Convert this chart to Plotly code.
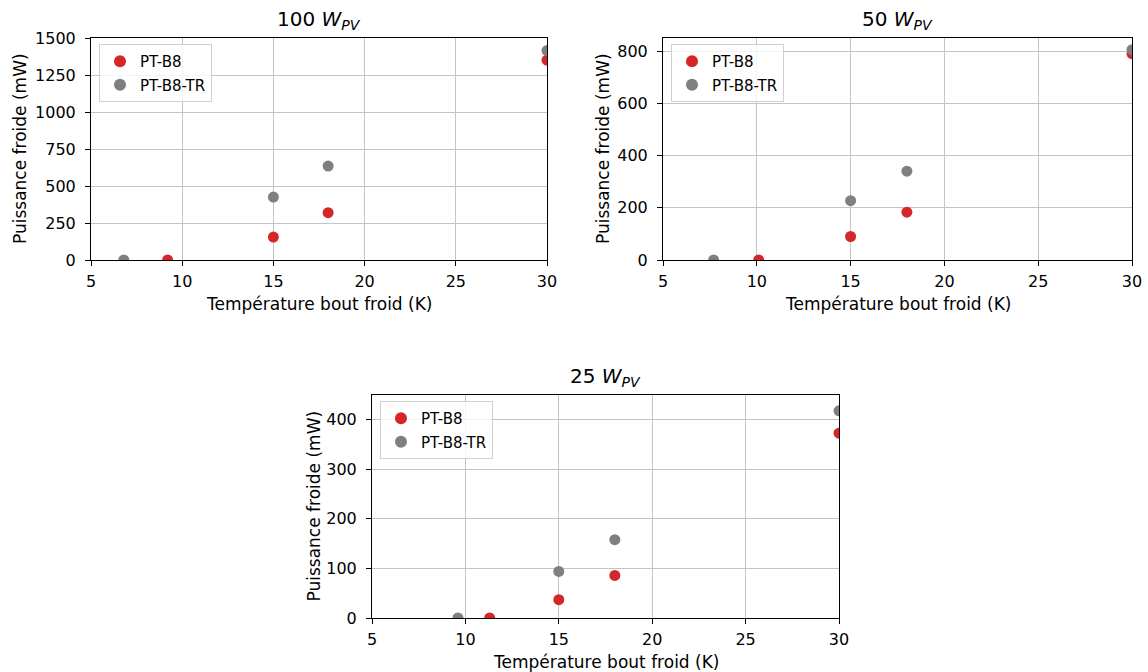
import plotly.graph_objects as go

# ---- data ----
temps_b8_100 = [9.2, 15, 18, 30]
power_b8_100 = [0, 155, 320, 1350]
temps_tr_100 = [6.8, 15, 18, 30]
power_tr_100 = [0, 425, 635, 1415]

temps_b8_50 = [10.1, 15, 18, 30]
power_b8_50 = [0, 90, 183, 790]
temps_tr_50 = [7.7, 15, 18, 30]
power_tr_50 = [0, 227, 340, 805]

temps_b8_25 = [11.3, 15, 18, 30]
power_b8_25 = [0, 37, 86, 373]
temps_tr_25 = [9.6, 15, 18, 30]
power_tr_25 = [0, 94, 158, 418]

titles = ["100", "50", "25"]
series_names = ["PT-B8", "PT-B8-TR"]
x_ticks = [5, 10, 15, 20, 25, 30]
y_ticks_100 = [0, 250, 500, 750, 1000, 1250, 1500]
y_ticks_50 = [0, 200, 400, 600, 800]
y_ticks_25 = [0, 100, 200, 300, 400]

RED = "#d62728"
GRAY = "#7f7f7f"
FONT = "DejaVu Sans"
W, H = 1148, 672

panels = [
    dict(b8=(temps_b8_100, power_b8_100), tr=(temps_tr_100, power_tr_100),
         yr=[0, 1500], yt=y_ticks_100, px=(91, 547), py=(38, 260), title=titles[0], yl=71),
    dict(b8=(temps_b8_50, power_b8_50), tr=(temps_tr_50, power_tr_50),
         yr=[0, 850], yt=y_ticks_50, px=(663, 1132), py=(38, 260), title=titles[1], yl=60),
    dict(b8=(temps_b8_25, power_b8_25), tr=(temps_tr_25, power_tr_25),
         yr=[0, 450], yt=y_ticks_25, px=(372, 839), py=(395, 618), title=titles[2], yl=59),
]

fig = go.Figure()
annotations = []
layout = {}

for i, p in enumerate(panels, start=1):
    sfx = "" if i == 1 else str(i)
    leg = "legend" if i == 1 else f"legend{i}"
    for name, key, col in [(series_names[0], "b8", RED), (series_names[1], "tr", GRAY)]:
        fig.add_trace(go.Scatter(
            x=p[key][0], y=p[key][1], mode="markers", name=name,
            marker=dict(color=col, size=11, line=dict(width=0)),
            xaxis="x" + sfx, yaxis="y" + sfx, legend=leg, cliponaxis=True,
            legendgroup=f"{key}{i}",
        ))
    x0, x1 = p["px"]
    y0, y1 = p["py"]
    common = dict(showline=True, linecolor="black", linewidth=1, mirror=True,
                  ticks="outside", ticklen=5, tickcolor="black",
                  showgrid=True, gridcolor="#c4c4c4", gridwidth=1,
                  zeroline=False, automargin=False,
                  tickfont=dict(family=FONT, size=16, color="black"))
    layout["xaxis" + sfx] = dict(domain=[x0 / W, x1 / W], range=[5, 30],
                                 tickvals=x_ticks, anchor="y" + sfx,
                                 ticklabelstandoff=2, **common)
    layout["yaxis" + sfx] = dict(domain=[1 - y1 / H, 1 - y0 / H], range=p["yr"],
                                 tickvals=p["yt"], anchor="x" + sfx,
                                 ticklabelstandoff=6, **common)
    layout[leg] = dict(x=(x0 + 8) / W, y=1 - (y0 + 6) / H, xanchor="left", yanchor="top",
                       bgcolor="rgba(255,255,255,0.8)", bordercolor="#d0d0d0", borderwidth=1,
                       font=dict(family=FONT, size=15, color="black"),
                       itemsizing="constant", tracegroupgap=1)
    cx = (x0 + x1) / 2
    annotations.append(dict(text=f"{p['title']} <i>W</i><sub><i>PV</i></sub>",
                            x=cx / W, y=1 - (y0 - 18) / H, xref="paper", yref="paper",
                            showarrow=False, font=dict(family=FONT, size=20, color="black"),
                            xanchor="center", yanchor="middle"))
    annotations.append(dict(text="Température bout froid (K)",
                            x=cx / W, y=1 - (y1 + 44) / H, xref="paper", yref="paper",
                            showarrow=False, font=dict(family=FONT, size=17, color="black"),
                            xanchor="center", yanchor="middle"))
    annotations.append(dict(text="Puissance froide (mW)", textangle=-90,
                            x=(x0 - p["yl"]) / W, y=1 - ((y0 + y1) / 2) / H, xref="paper", yref="paper",
                            showarrow=False, font=dict(family=FONT, size=17, color="black"),
                            xanchor="center", yanchor="middle"))

fig.update_layout(**layout)
fig.update_layout(width=W, height=H, margin=dict(l=0, r=0, t=0, b=0),
                  plot_bgcolor="white", paper_bgcolor="white",
                  font=dict(family=FONT, color="black"),
                  annotations=annotations, showlegend=True)
fig.write_html("out.html", config={"displayModeBar": False},
               post_script="document.body.style.margin='0px';")
